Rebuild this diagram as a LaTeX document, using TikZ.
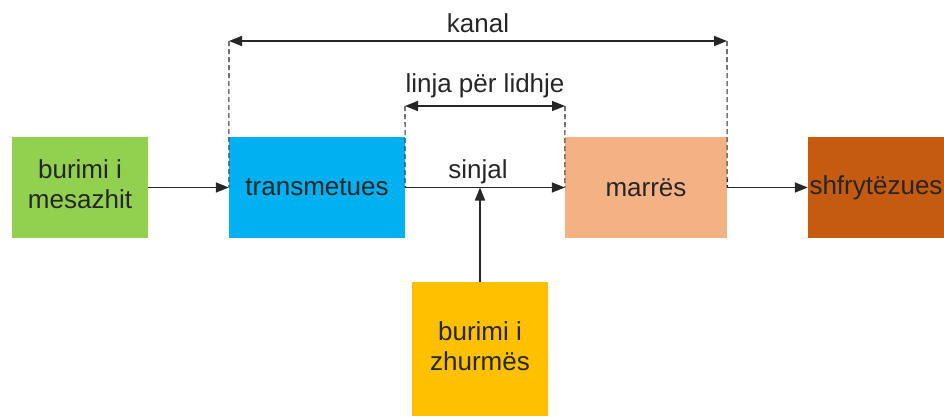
\documentclass[tikz,border=0pt]{standalone}
\usepackage{fontspec}
\setmainfont{Liberation Sans}
\usetikzlibrary{arrows.meta}
\definecolor{cgreen}{HTML}{92D050}
\definecolor{cblue}{HTML}{00B0F0}
\definecolor{csalmon}{HTML}{F4B183}
\definecolor{cbrown}{HTML}{C55A11}
\definecolor{cyellow}{HTML}{FFC000}
\definecolor{ctext}{HTML}{262626}
\definecolor{cline}{HTML}{262626}
\begin{document}
\begin{tikzpicture}[x=1pt,y=-1pt,
  every node/.style={text=ctext,font=\fontsize{26}{30}\selectfont,inner sep=0pt},
  block/.style={rectangle,align=center},
  arr/.style={draw=cline,line width=1.6pt,-{Triangle[length=13pt,width=10pt]}},
  darr/.style={draw=cline,line width=1.6pt,{Triangle[length=13pt,width=10pt]}-{Triangle[length=13pt,width=10pt]}},
  dashln/.style={draw=cline,line width=1.1pt,dash pattern=on 5pt off 3pt}]
\useasboundingbox (0,0) rectangle (944,416);
\node[block,fill=cgreen,minimum width=136pt,minimum height=101pt] (src) at (80,187.5) {\strut burimi i\\ mesazhit\strut};
\node[block,fill=cblue,minimum width=176pt,minimum height=101pt] (tx) at (317,187.5) {transmetues};
\node[block,fill=csalmon,minimum width=162pt,minimum height=101pt] (rx) at (646,187.5) {marrës};
\node[block,fill=cbrown,minimum width=136pt,minimum height=101pt] (dst) at (876,187.5) {shfrytëzues};
\node[block,fill=cyellow,minimum width=136pt,minimum height=134pt] (noise) at (480,349) {\strut burimi i\\ zhurmës\strut};
\coordinate (k1) at (229,41);
\coordinate (k2) at (727,41);
\coordinate (l1) at (405,106);
\coordinate (l2) at (565,106);
\coordinate (mix) at (480,187.5);
\draw[dashln] (k1) -- (tx.west);
\draw[dashln] (k2) -- (rx.east);
\draw[dashln] (l1) -- (tx.east);
\draw[dashln] (l2) -- (rx.west);
\draw[darr] (k1) -- node[above=7pt] (kanal) {kanal} (k2);
\draw[darr] (l1) -- node[above=7pt] (linja) {linja për lidhje} (l2);
\draw[arr] (src) -- (tx);
\draw[arr] (tx) -- (rx);
\draw[arr] (rx) -- (dst);
\draw[arr] (noise) -- (mix);
\node[anchor=base] (sinjal) at (478,178) {sinjal};
\end{tikzpicture}
\end{document}
